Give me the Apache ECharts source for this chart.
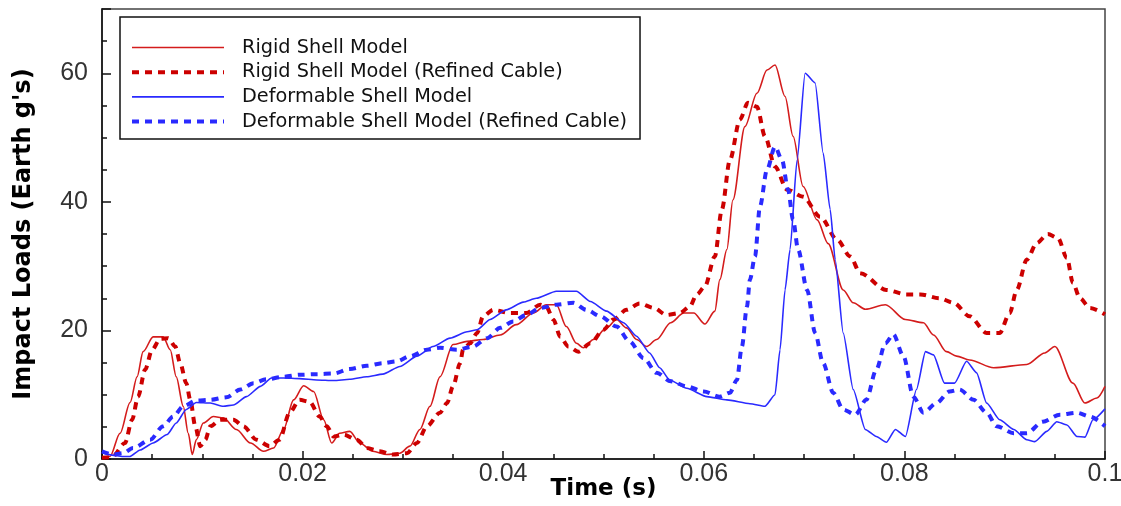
<!DOCTYPE html>
<html>
<head>
<meta charset="utf-8">
<script src="https://cdn.jsdelivr.net/npm/echarts@6/dist/echarts.min.js"></script>
<style>
html,body{margin:0;padding:0;background:#fff;}
#chart{width:1121px;height:506px;}
</style>
</head>
<body>
<div id="chart"></div>
<script>
// ---- data (time in s, load in Earth g's) ----
const seriesNames = [
  'Rigid Shell Model',
  'Rigid Shell Model (Refined Cable)',
  'Deformable Shell Model',
  'Deformable Shell Model (Refined Cable)'
];
const xTickLabels = ['0', '0.02', '0.04', '0.06', '0.08', '0.1'];
const yTickLabels = ['0', '20', '40', '60'];

const rigidT = [0,0.0008,0.0018,0.0028,0.0035,0.0041,0.0051,0.0061,0.0068,0.0074,0.0081,0.0086,0.0090,0.0094,0.0101,0.0111,0.0121,0.0134,0.0148,0.0161,0.0171,0.0181,0.0191,0.0201,0.0211,0.0221,0.0229,0.0237,0.0247,0.0257,0.0270,0.0284,0.0297,0.0307,0.0317,0.0327,0.0337,0.0350,0.0364,0.0380,0.0397,0.0413,0.0430,0.0443,0.0453,0.0463,0.0473,0.0480,0.0490,0.0503,0.0513,0.0523,0.0533,0.0543,0.0553,0.0567,0.0580,0.0590,0.0601,0.0611,0.0616,0.0623,0.0629,0.0641,0.0653,0.0663,0.0671,0.0681,0.0689,0.0699,0.0713,0.0724,0.0739,0.0749,0.0761,0.0781,0.0801,0.0819,0.0829,0.0842,0.0852,0.0865,0.0889,0.0922,0.0940,0.0950,0.0968,0.0980,0.0992,0.1000];
const rigidV = [0.3,0.4,4,8.8,12.8,16.7,19,19,17,12.8,8.2,4,0.7,3,5.6,6.6,6.4,4.6,2.5,1.2,1.7,4.6,9.2,11.4,10.5,6.1,2.5,4,4.3,2.5,1.2,0.7,0.9,2,4.6,8.2,12.8,17.8,18.3,18.6,19.3,20.9,22.7,24,24,20.6,18,17.3,18.6,20.4,21.7,20.4,18.6,17.5,18.6,21.2,22.7,22.7,21,23,27.9,32.6,40.3,51.7,56.9,60.5,61.3,56.4,50.2,42.4,37.2,33.5,26.3,24.3,23.3,24,21.7,21.2,19.3,16.7,16,15.4,14.2,14.7,16.5,17.5,11.8,8.7,9.5,11.3];

const rigidRefT = [0,0.0010,0.0023,0.0030,0.0036,0.0043,0.0050,0.0058,0.0066,0.0073,0.0078,0.0084,0.0088,0.0093,0.0098,0.0103,0.0108,0.0118,0.0131,0.0141,0.0154,0.0167,0.0177,0.0187,0.0197,0.0207,0.0217,0.0224,0.0231,0.0241,0.0254,0.0264,0.0277,0.0290,0.0304,0.0314,0.0324,0.0337,0.0344,0.0350,0.0357,0.0360,0.0367,0.0374,0.0380,0.0390,0.0407,0.0423,0.0437,0.0443,0.0450,0.0457,0.0465,0.0475,0.0487,0.0500,0.0510,0.0523,0.0536,0.0550,0.0563,0.0576,0.0586,0.0593,0.0601,0.0611,0.0618,0.0626,0.0636,0.0644,0.0653,0.0661,0.0671,0.0683,0.0699,0.0716,0.0733,0.0746,0.0756,0.0782,0.0802,0.0816,0.0835,0.0849,0.0865,0.0882,0.0895,0.0905,0.0912,0.0922,0.0932,0.0943,0.0953,0.0962,0.0968,0.0975,0.0985,0.1000];
const rigidRefV = [0.2,0.3,2.5,6.1,9.7,13.9,17,18.7,18.8,17.5,14.9,11.8,9.2,5.1,2,3,5.1,6.1,6.1,5.1,3,2,3,7.2,9.2,8.9,6.6,5.1,3.5,3.8,3,1.7,1.2,0.7,0.9,2.5,5.1,7.2,8.7,11.3,14.9,17,18,19.6,22.2,23.2,22.7,22.7,24,23.7,21.7,19,17.5,16.7,18,20.1,21.7,23.2,24.2,23.5,22.4,22.7,23.7,25.6,26.8,31.5,38.8,46.5,52.8,55.4,54.8,50.2,45.5,41.9,40.8,37.7,34.1,31.5,28.9,26.3,25.6,25.6,25,24.3,22.2,19.6,19.6,22.7,26.3,31,33.6,35,34.4,31.3,27.4,25,23.5,22.5];

const deformT = [0,0.0010,0.0020,0.0028,0.0038,0.0051,0.0065,0.0074,0.0084,0.0094,0.0108,0.0121,0.0131,0.0144,0.0158,0.0169,0.0181,0.0197,0.0214,0.0231,0.0247,0.0264,0.0280,0.0297,0.0314,0.0330,0.0347,0.0364,0.0374,0.0387,0.0403,0.0420,0.0433,0.0453,0.0473,0.0487,0.0503,0.0520,0.0533,0.0546,0.0556,0.0566,0.0583,0.0603,0.0623,0.0646,0.0661,0.0671,0.0676,0.0681,0.0686,0.0693,0.0701,0.0711,0.0719,0.0726,0.0731,0.0739,0.0749,0.0761,0.0772,0.0782,0.0791,0.0801,0.0812,0.0821,0.0829,0.0840,0.0850,0.0862,0.0872,0.0882,0.0895,0.0909,0.0922,0.0930,0.0942,0.0952,0.0962,0.0972,0.0980,0.0988,0.1000];
const deformV = [1,0.6,0.4,0.4,1.4,2.5,3.8,5.6,7.7,8.8,8.7,8.2,8.4,9.7,11.3,12.6,12.6,12.5,12.3,12.2,12.4,12.8,13.2,14.4,16,17.5,18.8,19.8,20.1,21.7,23.2,24.4,25,26.1,26.1,24.5,23,21.2,19.1,16.5,14.2,12.3,11,9.7,9.2,8.6,8.2,10,17,26.3,32.6,46.5,60,58.5,47.6,38.8,31,19.6,10.8,4.6,3.5,2.6,4.6,3.5,10.8,16.7,16.2,11.8,11.8,15.2,13.4,8.7,6.1,4.6,3,2.7,4.3,5.8,5.3,3.5,3.4,6.1,7.8];

const deformRefT = [0,0.0011,0.0021,0.0031,0.0048,0.0061,0.0071,0.0081,0.0094,0.0108,0.0124,0.0138,0.0151,0.0164,0.0181,0.0197,0.0214,0.0231,0.0247,0.0264,0.0280,0.0294,0.0307,0.0324,0.0337,0.0354,0.0370,0.0384,0.0397,0.0410,0.0423,0.0437,0.0453,0.0470,0.0483,0.0497,0.0513,0.0526,0.0540,0.0553,0.0567,0.0583,0.0600,0.0616,0.0626,0.0633,0.0638,0.0643,0.0646,0.0651,0.0656,0.0663,0.0671,0.0678,0.0684,0.0689,0.0694,0.0703,0.0711,0.0719,0.0729,0.0739,0.0751,0.0762,0.0772,0.0781,0.0789,0.0799,0.0809,0.0819,0.0832,0.0845,0.0855,0.0869,0.0882,0.0892,0.0909,0.0922,0.0938,0.0955,0.0972,0.0985,0.1000];
const deformRefV = [1.2,0.7,0.9,1.7,3,5.1,6.6,8.2,9.1,9.2,9.6,10.8,11.8,12.4,12.8,13.1,13.2,13.3,14,14.5,14.9,15.2,16,17,17.3,17,17.5,18.8,20.4,21.4,22.4,23.5,24,24.3,23.2,22.2,20.6,18.3,15.7,13.4,12.1,11.3,10.5,9.7,10.3,12.3,17.5,23.7,27.9,31.5,39.3,45,48.6,46.5,41.9,37.2,32.6,26.3,19.6,14.9,10.3,7.7,6.9,9.2,13.9,18,19.4,16,9.7,7.2,8.7,10.5,10.8,9.2,7.2,5.1,4,4,5.8,6.9,7.2,6.6,5.1];

function zip(t, v) { return t.map((x, i) => [x, v[i]]); }

const RED = '#d41c1c';
const RED_D = '#cc0000';
const BLUE = '#2a2aff';
const DASH = [7, 6];

const chart = echarts.init(document.getElementById('chart'), null, {renderer: 'canvas'});

const tickFont = {fontFamily: '"Liberation Sans", Arial, sans-serif', fontSize: 25, color: '#333'};
const legendStyles = [
  {color: RED, width: 1.6, type: 'solid'},
  {color: RED_D, width: 4, type: DASH},
  {color: BLUE, width: 1.6, type: 'solid'},
  {color: BLUE, width: 4, type: DASH}
];

chart.setOption({
  animation: false,
  backgroundColor: '#fff',
  grid: {left: 102, right: 16, top: 9, bottom: 47, show: true, borderColor: '#444', borderWidth: 1.5,
         containLabel: false, outerBoundsMode: 'none'},
  legend: {
    orient: 'vertical', left: 120, top: 17,
    padding: [21, 13, 8, 10],
    borderColor: '#111', borderWidth: 1.5,
    backgroundColor: '#fff',
    itemWidth: 92, itemHeight: 19, itemGap: 5.7,
    itemStyle: {opacity: 0},
    textStyle: {fontFamily: '"DejaVu Sans", sans-serif', fontSize: 19.3, lineHeight: 19, color: '#111', padding: [0, 0, 0, 13]},
    data: seriesNames.map((n, i) => ({name: n, lineStyle: legendStyles[i]}))
  },
  xAxis: {
    type: 'value', min: 0, max: 0.1, interval: 0.02,
    name: 'Time (s)', nameLocation: 'middle', nameGap: 19, nameMoveOverlap: false,
    nameTextStyle: {fontFamily: '"DejaVu Sans", sans-serif', fontWeight: 'bold', fontSize: 23, color: '#000'},
    axisLine: {show: true, onZero: false, lineStyle: {color: '#111', width: 1.5}},
    axisTick: {show: true, inside: true, length: 8, lineStyle: {color: '#111', width: 1.5}},
    minorTick: {show: true, splitNumber: 4, length: 5, lineStyle: {color: '#111', width: 1.5}},
    splitLine: {show: false},
    axisLabel: Object.assign({margin: 3, formatter: function (v) {
      const i = Math.round(v / 0.02);
      return Math.abs(v - i * 0.02) < 1e-9 ? xTickLabels[i] : '';
    }}, tickFont)
  },
  yAxis: [{
    type: 'value', min: 0, max: 70, interval: 5,
    name: "Impact Loads (Earth g's)", nameLocation: 'middle', nameGap: 66, nameMoveOverlap: false,
    nameTextStyle: {fontFamily: '"DejaVu Sans", sans-serif', fontWeight: 'bold', fontSize: 24, color: '#000'},
    axisLine: {show: true, onZero: false, lineStyle: {color: '#111', width: 1.5}},
    axisTick: {show: true, inside: true, length: 5, lineStyle: {color: '#111', width: 1.5}},
    splitLine: {show: false},
    axisLabel: Object.assign({margin: 14, formatter: function (v) {
      const i = Math.round(v / 20);
      return (Math.abs(v - i * 20) < 1e-9 && i < yTickLabels.length) ? yTickLabels[i] : '';
    }}, tickFont)
  }, {
    type: 'value', min: 0, max: 70, interval: 20, position: 'left',
    axisLine: {show: false},
    axisTick: {show: true, inside: true, length: 9, lineStyle: {color: '#111', width: 1.5}},
    axisLabel: {show: false},
    splitLine: {show: false}
  }],
  series: [
    {name: seriesNames[0], type: 'line', data: zip(rigidT, rigidV), showSymbol: false, symbol: 'none', smooth: 0.3, smoothMonotone: 'x',
     color: RED, lineStyle: {color: RED, width: 1.6}},
    {name: seriesNames[1], type: 'line', data: zip(rigidRefT, rigidRefV), showSymbol: false, symbol: 'none', smooth: 0.3, smoothMonotone: 'x',
     color: RED_D, lineStyle: {color: RED_D, width: 4, type: DASH}},
    {name: seriesNames[2], type: 'line', data: zip(deformT, deformV), showSymbol: false, symbol: 'none', smooth: 0.2, smoothMonotone: 'x',
     color: BLUE, lineStyle: {color: BLUE, width: 1.6}},
    {name: seriesNames[3], type: 'line', data: zip(deformRefT, deformRefV), showSymbol: false, symbol: 'none', smooth: 0.3, smoothMonotone: 'x',
     color: BLUE, lineStyle: {color: BLUE, width: 4, type: DASH}}
  ]
});
</script>
</body>
</html>
